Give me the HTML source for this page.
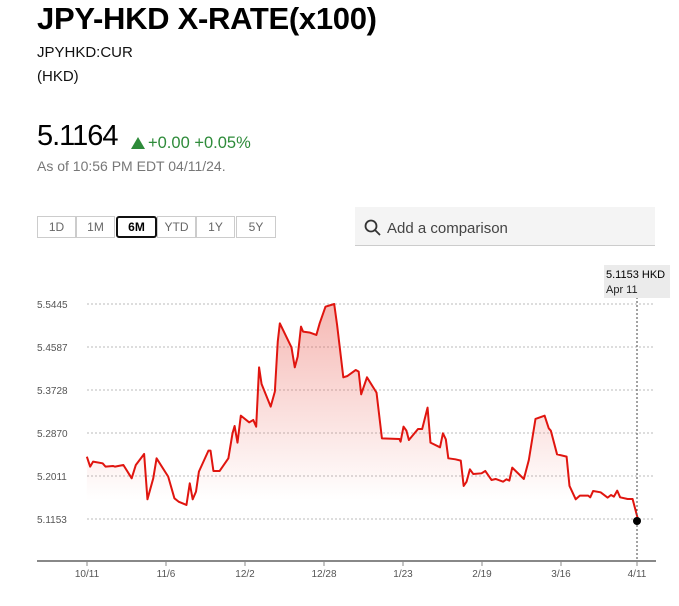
<!DOCTYPE html>
<html><head><meta charset="utf-8"><style>
body{margin:0;width:679px;height:606px;background:#fff;font-family:"Liberation Sans",Arial,sans-serif;position:relative;overflow:hidden;color:#000}
.a{position:absolute;white-space:nowrap}
.btn{position:absolute;top:216px;height:22px;width:39px;border:1px solid #ccc;box-sizing:border-box;font-size:12px;color:#666;text-align:center;line-height:20px}
</style></head><body>
<div class="a" style="left:37px;top:1px;font-size:31px;font-weight:bold;letter-spacing:-0.3px">JPY-HKD X-RATE(x100)</div>
<div class="a" style="left:37px;top:44px;font-size:15px;color:#111">JPYHKD:CUR</div>
<div class="a" style="left:37px;top:68px;font-size:15px;color:#111">(HKD)</div>
<div class="a" style="left:37px;top:120px;font-size:29px;letter-spacing:-1px">5.1164</div>
<div class="a" style="left:131px;top:137px;width:0;height:0;border-left:7px solid transparent;border-right:7px solid transparent;border-bottom:12px solid #2e8b3a"></div>
<div class="a" style="left:148px;top:134px;font-size:16.5px;color:#2e8b3a">+0.00 +0.05%</div>
<div class="a" style="left:37px;top:158px;font-size:14px;color:#777">As of 10:56 PM EDT 04/11/24.</div>
<div class="btn" style="left:37px">1D</div>
<div class="btn" style="left:76px">1M</div>
<div class="btn" style="left:116px;border:2px solid #111;border-radius:3px;color:#000;font-weight:bold;line-height:18px;width:41px">6M</div>
<div class="btn" style="left:157px">YTD</div>
<div class="btn" style="left:196px">1Y</div>
<div class="btn" style="left:236px;width:40px">5Y</div>
<div class="a" style="left:355px;top:207px;width:300px;height:39px;background:#f4f4f4;border-bottom:1px solid #ccc;box-sizing:border-box"></div>
<svg class="a" style="left:364px;top:219px" width="18" height="18"><circle cx="7" cy="7" r="5.5" fill="none" stroke="#333" stroke-width="1.8"/><line x1="11" y1="11" x2="16" y2="16" stroke="#333" stroke-width="1.8"/></svg>
<div class="a" style="left:387px;top:220px;font-size:15px;color:#444">Add a comparison</div>
<svg class="a" style="left:0;top:0" width="679" height="606">
<defs><linearGradient id="g" gradientUnits="userSpaceOnUse" x1="0" y1="130" x2="0" y2="720"><stop offset="0" stop-color="#e8564b" stop-opacity="0.42"/><stop offset="1" stop-color="#e8564b" stop-opacity="0"/></linearGradient></defs>
<g stroke="#bbb" stroke-dasharray="2,2" stroke-width="1">
<line x1="87" y1="304" x2="655" y2="304"/><line x1="87" y1="347" x2="655" y2="347"/><line x1="87" y1="390" x2="655" y2="390"/><line x1="87" y1="433" x2="655" y2="433"/><line x1="87" y1="476" x2="655" y2="476"/><line x1="87" y1="519" x2="655" y2="519"/></g>
<g font-size="10" fill="#555" font-family="Liberation Sans,sans-serif">
<text x="37" y="308">5.5445</text><text x="37" y="351">5.4587</text><text x="37" y="394">5.3728</text><text x="37" y="437">5.2870</text><text x="37" y="480">5.2011</text><text x="37" y="523">5.1153</text></g>
<line x1="37" y1="561" x2="656" y2="561" stroke="#888" stroke-width="2"/>
<g stroke="#888"><line x1="87" y1="561" x2="87" y2="566"/><line x1="166" y1="561" x2="166" y2="566"/><line x1="245" y1="561" x2="245" y2="566"/><line x1="324" y1="561" x2="324" y2="566"/><line x1="403" y1="561" x2="403" y2="566"/><line x1="482" y1="561" x2="482" y2="566"/><line x1="561" y1="561" x2="561" y2="566"/><line x1="637" y1="561" x2="637" y2="566"/></g>
<g font-size="10" fill="#555" text-anchor="middle" font-family="Liberation Sans,sans-serif">
<text x="87" y="577">10/11</text><text x="166" y="577">11/6</text><text x="245" y="577">12/2</text><text x="324" y="577">12/28</text><text x="403" y="577">1/23</text><text x="482" y="577">2/19</text><text x="561" y="577">3/16</text><text x="637" y="577">4/11</text></g>
<g transform="translate(30,260) scale(0.415,0.3333)">
<path d="M137,590L145,620L152,605L175,610L182,620L200,618L205,620L225,615L245,655L255,615L275,582L283,718L297,655L305,595L333,650L348,715L358,725L377,735L385,670L392,718L400,695L407,635L430,572L435,572L442,633L457,633L478,595L488,520L493,498L500,548L508,467L528,487L538,480L545,500L552,322L558,372L580,440L590,395L597,245L602,190L630,262L638,322L645,290L653,200L658,215L675,218L690,225L698,190L712,140L733,132L740,195L755,352L765,348L785,330L792,335L798,403L812,352L835,398L848,535L890,537L893,545L900,500L907,512L913,540L935,507L945,507L958,443L965,548L988,562L995,520L1002,538L1008,595L1025,598L1038,602L1045,678L1052,665L1060,628L1068,642L1088,640L1097,633L1112,660L1122,657L1140,665L1148,658L1155,662L1162,623L1190,657L1202,600L1218,477L1240,467L1250,505L1255,512L1270,583L1293,590L1300,678L1315,718L1325,707L1345,707L1350,712L1357,693L1375,697L1392,713L1400,705L1407,710L1415,692L1422,712L1440,717L1452,717L1466,783L1466,900L137,900Z" fill="url(#g)" stroke="none"/>
<path d="M137,590L145,620L152,605L175,610L182,620L200,618L205,620L225,615L245,655L255,615L275,582L283,718L297,655L305,595L333,650L348,715L358,725L377,735L385,670L392,718L400,695L407,635L430,572L435,572L442,633L457,633L478,595L488,520L493,498L500,548L508,467L528,487L538,480L545,500L552,322L558,372L580,440L590,395L597,245L602,190L630,262L638,322L645,290L653,200L658,215L675,218L690,225L698,190L712,140L733,132L740,195L755,352L765,348L785,330L792,335L798,403L812,352L835,398L848,535L890,537L893,545L900,500L907,512L913,540L935,507L945,507L958,443L965,548L988,562L995,520L1002,538L1008,595L1025,598L1038,602L1045,678L1052,665L1060,628L1068,642L1088,640L1097,633L1112,660L1122,657L1140,665L1148,658L1155,662L1162,623L1190,657L1202,600L1218,477L1240,467L1250,505L1255,512L1270,583L1293,590L1300,678L1315,718L1325,707L1345,707L1350,712L1357,693L1375,697L1392,713L1400,705L1407,710L1415,692L1422,712L1440,717L1452,717L1466,783" fill="none" stroke="#e0150f" stroke-width="2" vector-effect="non-scaling-stroke" stroke-linejoin="round"/>
</g>
<line x1="637" y1="297" x2="637" y2="561" stroke="#444" stroke-dasharray="2,2"/>
<rect x="604" y="265" width="66" height="33" fill="#ebebeb"/>
<text x="606" y="278" font-size="11" fill="#000" font-family="Liberation Sans,sans-serif">5.1153 HKD</text>
<text x="606" y="293" font-size="11" fill="#222" font-family="Liberation Sans,sans-serif">Apr 11</text>
<circle cx="637" cy="521" r="4" fill="#000"/>
</svg>
</body></html>
